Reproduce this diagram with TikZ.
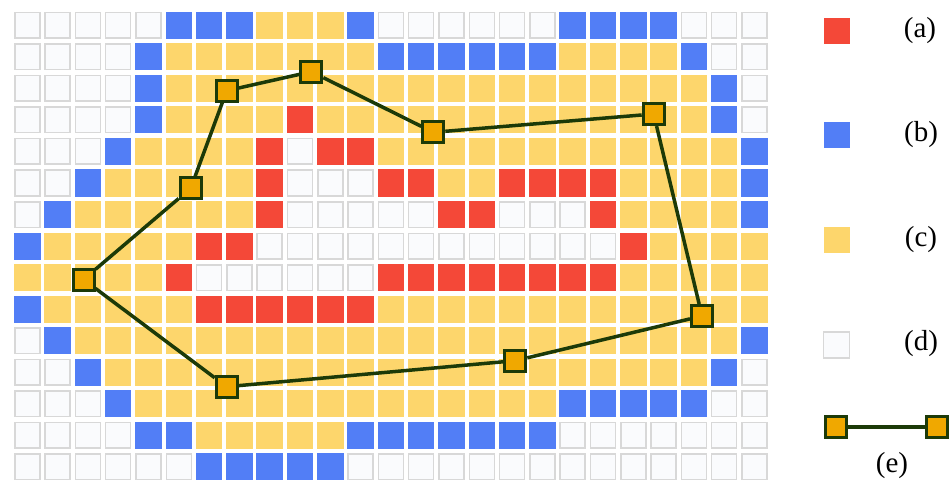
\documentclass[tikz,border=0pt]{standalone}
\usepackage{fontspec}
\setmainfont{Liberation Serif}
\definecolor{fR}{RGB}{244,72,56}
\definecolor{eR}{RGB}{244,72,56}
\definecolor{fB}{RGB}{82,126,246}
\definecolor{eB}{RGB}{82,126,246}
\definecolor{fY}{RGB}{253,214,108}
\definecolor{eY}{RGB}{253,214,108}
\definecolor{fW}{RGB}{250,251,253}
\definecolor{eW}{RGB}{216,216,216}
\definecolor{vfill}{RGB}{240,168,0}
\definecolor{vline}{RGB}{28,58,8}
\tikzset{
  vert/.style={rectangle, draw=vline, fill=vfill, line width=3pt, minimum size=21pt, inner sep=0pt},
  edge/.style={draw=vline, line width=3.5pt},
  legsq/.style={rectangle, minimum size=26pt, inner sep=0pt, line width=1.5pt},
  legtxt/.style={font=\fontsize{29}{32}\selectfont, inner sep=0pt}
}
\begin{document}
\begin{tikzpicture}[x=1pt,y=-1pt]
\useasboundingbox (0,0) rectangle (949,489);
\fill[white] (0,0) rectangle (949,489);
\foreach \rowdata [count=\r from 0] in {
 {W,W,W,W,W,B,B,B,Y,Y,Y,B,W,W,W,W,W,W,B,B,B,B,W,W,W},
 {W,W,W,W,B,Y,Y,Y,Y,Y,Y,Y,B,B,B,B,B,B,Y,Y,Y,Y,B,W,W},
 {W,W,W,W,B,Y,Y,Y,Y,Y,Y,Y,Y,Y,Y,Y,Y,Y,Y,Y,Y,Y,Y,B,W},
 {W,W,W,W,B,Y,Y,Y,Y,R,Y,Y,Y,Y,Y,Y,Y,Y,Y,Y,Y,Y,Y,B,W},
 {W,W,W,B,Y,Y,Y,Y,R,W,R,R,Y,Y,Y,Y,Y,Y,Y,Y,Y,Y,Y,Y,B},
 {W,W,B,Y,Y,Y,Y,Y,R,W,W,W,R,R,Y,Y,R,R,R,R,Y,Y,Y,Y,B},
 {W,B,Y,Y,Y,Y,Y,Y,R,W,W,W,W,W,R,R,W,W,W,R,Y,Y,Y,Y,B},
 {B,Y,Y,Y,Y,Y,R,R,W,W,W,W,W,W,W,W,W,W,W,W,R,Y,Y,Y,Y},
 {Y,Y,Y,Y,Y,R,W,W,W,W,W,W,R,R,R,R,R,R,R,R,Y,Y,Y,Y,Y},
 {B,Y,Y,Y,Y,Y,R,R,R,R,R,R,Y,Y,Y,Y,Y,Y,Y,Y,Y,Y,Y,Y,Y},
 {W,B,Y,Y,Y,Y,Y,Y,Y,Y,Y,Y,Y,Y,Y,Y,Y,Y,Y,Y,Y,Y,Y,Y,B},
 {W,W,B,Y,Y,Y,Y,Y,Y,Y,Y,Y,Y,Y,Y,Y,Y,Y,Y,Y,Y,Y,Y,B,W},
 {W,W,W,B,Y,Y,Y,Y,Y,Y,Y,Y,Y,Y,Y,Y,Y,Y,B,B,B,B,B,W,W},
 {W,W,W,W,B,B,Y,Y,Y,Y,Y,B,B,B,B,B,B,B,W,W,W,W,W,W,W},
 {W,W,W,W,W,W,B,B,B,B,B,W,W,W,W,W,W,W,W,W,W,W,W,W,W}} {
  \foreach \k [count=\c from 0] in \rowdata {
    \path[fill=f\k, draw=e\k, line width=1.5pt] ({14.75+30.3*\c},{12.75+31.5*\r}) rectangle ++(25,25.5);
  }
}
% polygon vertices
\node[vert] (v1) at (83.5,279.5) {};
\node[vert] (v9) at (190.7,188.3) {};
\node[vert] (v2) at (226.7,90.7) {};
\node[vert] (v3) at (311.3,71.7) {};
\node[vert] (v4) at (433.3,132.3) {};
\node[vert] (v5) at (653.7,114) {};
\node[vert] (v6) at (702,316) {};
\node[vert] (v7) at (515.3,360.7) {};
\node[vert] (v8) at (226.7,386.7) {};
\draw[edge] (v1) -- (v9) -- (v2) -- (v3) -- (v4) -- (v5) -- (v6) -- (v7) -- (v8) -- (v1);
% legend
\node[legsq, fill=fR] (la) at (836.5,31) {};
\node[legsq, fill=fB] (lb) at (836.5,135) {};
\node[legsq, fill=fY] (lc) at (836.5,240) {};
\node[legsq, fill=fW, draw=eW] (ld) at (836.5,345) {};
\node[legtxt] (ta) at (920,31) {(a)};
\node[legtxt] (tb) at (921,135) {(b)};
\node[legtxt] (tc) at (921,240) {(c)};
\node[legtxt] (td) at (921,344) {(d)};
\node[vert] (e1) at (836,427) {};
\node[vert] (e2) at (937,427) {};
\draw[edge] (e1) -- (e2);
\node[legtxt] (te) at (892,466) {(e)};
\end{tikzpicture}
\end{document}
